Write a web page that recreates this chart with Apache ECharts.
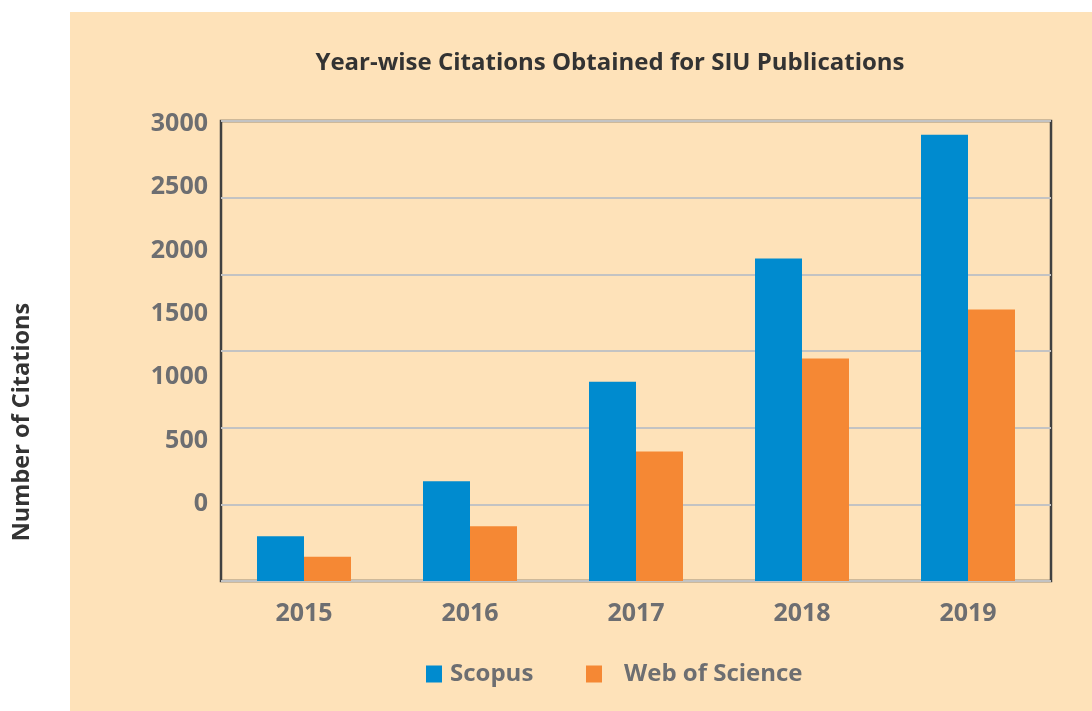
<!DOCTYPE html>
<html>
<head>
<meta charset="utf-8">
<script src="https://cdn.jsdelivr.net/npm/echarts@6/dist/echarts.min.js"></script>
<style>
  html, body { margin: 0; padding: 0; background: #fff; }
  #chart { width: 1092px; height: 711px; }
</style>
</head>
<body>
<div id="chart"></div>
<script>
// data
const years = ['2015', '2016', '2017', '2018', '2019']
const scopus = [292, 651, 1300, 2103, 2910]
const webOfScience = [158, 357, 845, 1451, 1771]
const yTicks = [0, 500, 1000, 1500, 2000, 2500, 3000]

const labelGrey = '#6d6e71'
const font = 'Open Sans'

const myChart = echarts.init(document.getElementById('chart'))

const options = {
  animation: false,
  textStyle: { fontFamily: font },
  graphic: [
    {
      type: 'rect',
      z: -10,
      shape: { x: 70, y: 12, width: 1022, height: 699 },
      style: { fill: '#fee2b9' }
    },
    {
      type: 'text',
      x: 22,
      y: 422,
      rotation: Math.PI / 2,
      style: {
        text: 'Number of Citations',
        font: 'bold 23.5px "Open Sans"',
        fill: '#333',
        align: 'center',
        verticalAlign: 'middle'
      }
    }
  ],
  title: {
    text: 'Year-wise Citations Obtained for SIU Publications',
    left: 605,
    top: 46,
    textAlign: 'center',
    textStyle: { fontFamily: font, fontSize: 24, fontWeight: 'bold', color: '#333' }
  },
  legend: [
    {
      data: ['Scopus'],
      left: 421,
      top: 657,
      icon: 'rect',
      itemWidth: 16,
      itemHeight: 17,
      textStyle: { fontFamily: font, fontSize: 24, fontWeight: 'bold', color: labelGrey, padding: [0, 0, 0, 3] }
    },
    {
      data: ['Web of Science'],
      left: 581,
      top: 657,
      icon: 'rect',
      itemWidth: 16,
      itemHeight: 17,
      textStyle: { fontFamily: font, fontSize: 24, fontWeight: 'bold', color: labelGrey, padding: [0, 0, 0, 17] }
    }
  ],
  grid: [
    {
      left: 221, right: 41, top: 121, bottom: 130,
      show: true, borderColor: '#404040', borderWidth: 2.5, backgroundColor: 'transparent'
    },
    // only carries the y tick labels, which sit offset from the grid lines in the original
    { left: 221, right: 41, top: 124, bottom: 207 }
  ],
  xAxis: [
    {
      type: 'category',
      gridIndex: 0,
      data: years,
      axisLine: { show: false },
      axisTick: { show: false },
      axisLabel: { fontFamily: font, fontSize: 25, fontWeight: 'bold', color: labelGrey, margin: 20 }
    },
    { type: 'category', gridIndex: 1, data: years, show: false }
  ],
  yAxis: [
    {
      type: 'value',
      gridIndex: 0,
      min: yTicks[0],
      max: yTicks[yTicks.length - 1],
      interval: 500,
      axisLabel: { show: false },
      axisLine: { show: false },
      axisTick: { show: false },
      splitLine: { lineStyle: { color: '#c3c3c3', width: 2 } }
    },
    {
      type: 'value',
      gridIndex: 1,
      min: yTicks[0],
      max: yTicks[yTicks.length - 1],
      interval: 500,
      axisLine: { show: false },
      axisTick: { show: false },
      splitLine: { show: false },
      axisLabel: {
        fontFamily: font, fontSize: 25, fontWeight: 'bold', color: labelGrey, margin: 13,
        formatter: v => String(v)
      }
    }
  ],
  series: [
    {
      name: 'Scopus',
      type: 'bar',
      data: scopus,
      barWidth: 47,
      barGap: '0%',
      itemStyle: { color: '#008bcf' }
    },
    {
      name: 'Web of Science',
      type: 'bar',
      data: webOfScience,
      barWidth: 47,
      itemStyle: { color: '#f58834' }
    }
  ]
}

options && myChart.setOption(options)
</script>
</body>
</html>
